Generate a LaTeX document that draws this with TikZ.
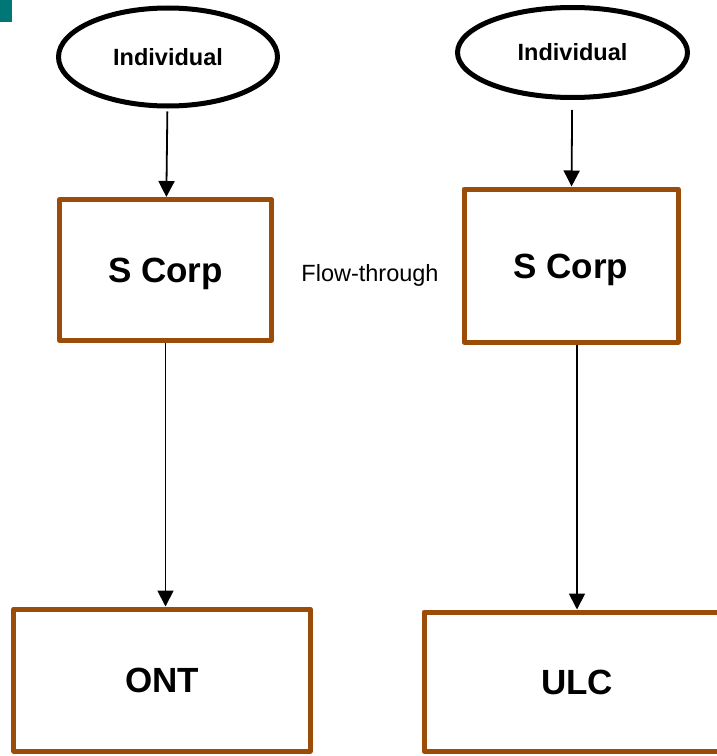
\documentclass[tikz,border=0pt]{standalone}
\usepackage{fontspec}
\setmainfont{Liberation Sans}
\usetikzlibrary{arrows.meta,shapes.geometric}
\definecolor{corpbrown}{RGB}{155,76,8}
\definecolor{cornerteal}{RGB}{0,118,118}

\begin{document}
\begin{tikzpicture}[x=1bp, y=-1bp,
  owner/.style={ellipse, draw, line width=5bp, inner sep=0pt,
    font=\bfseries\fontsize{23.5bp}{28bp}\selectfont,
    text height=17bp, text depth=0pt},
  entity/.style={rectangle, draw=corpbrown, line width=5bp, line join=round,
    inner sep=0pt, font=\bfseries\fontsize{35bp}{42bp}\selectfont,
    text height=25bp, text depth=0pt},
  link/.style={line width=1.8bp, -{Triangle[width=16bp, length=16bp]}}]
\useasboundingbox (0,0) rectangle (717,756);
\fill[cornerteal] (0,0) rectangle (12,22);
\node[owner, minimum width=219bp, minimum height=98bp] (indleft) at (168,57)
  {Individual};
\node[owner, minimum width=230bp, minimum height=90bp] (indright) at (572.5,52.5)
  {Individual};
\node[entity, minimum width=212bp, minimum height=141bp] (scorpleft) at (165.5,270)
  {S Corp};
\node[entity, minimum width=214bp, minimum height=153bp] (scorpright) at (571,265.5)
  {S Corp};
\node[entity, minimum width=296bp, minimum height=142bp] (ont) at (162,680) {ONT};
\node[entity, minimum width=306bp, minimum height=139bp] (ulc) at (577,681.5) {ULC};
\node[font=\fontsize{23.5bp}{28bp}\selectfont, anchor=base] (flow) at (370,281)
  {Flow-through};
\draw[link, shorten <=3bp] (indleft) -- (scorpleft);
\draw[link, shorten <=10bp] (indright) -- (scorpright);
\draw[link] (scorpleft.south) -- (scorpleft.south |- ont.north);
\draw[link] (ulc.north |- scorpright.south) -- (ulc.north);
\end{tikzpicture}
\end{document}
